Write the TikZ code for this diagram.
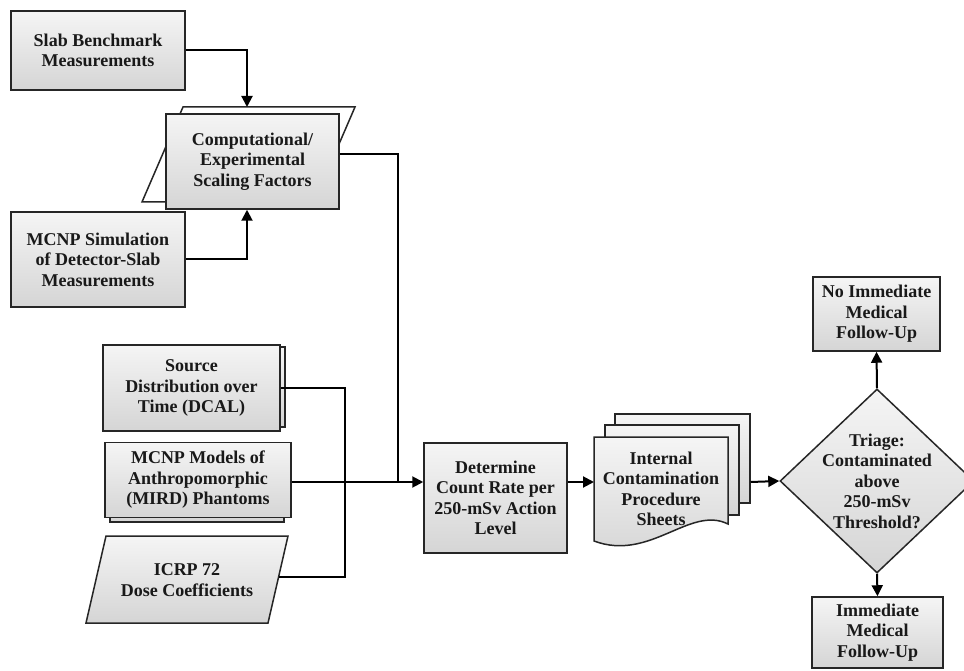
\documentclass[tikz,border=0pt]{standalone}
\usepackage{fontspec}
\setmainfont{Liberation Serif}
\usetikzlibrary{arrows.meta,shapes.geometric,calc}
\begin{document}
\begin{tikzpicture}[x=1pt,y=-1pt,
  lbl/.style={align=center, inner sep=0pt, text=black!90, font=\fontsize{18}{20.5}\selectfont\bfseries},
  edge/.style={draw=black!85, line width=1.5pt},
  shade/.style={top color=gray!8, bottom color=gray!33},
  box/.style={edge, shade, lbl},
  conn/.style={line width=2pt, draw=black},
  arr/.style={conn, -{Triangle[length=11pt,width=11pt]}}]
\useasboundingbox (0,0) rectangle (964,671);
\fill[white] (0,0) rectangle (964,671);

% top-left group
\node[box, minimum width=174pt, minimum height=79pt] (slab) at (98,50.5) {Slab Benchmark\\Measurements};
\filldraw[edge, fill=white] (183,107) -- (355,107) -- (314,202) -- (142,202) -- cycle;
\coordinate (csftop) at (247,107);
\node[box, minimum width=173pt, minimum height=95pt] (csf) at (252.5,161.5) {Computational/\\Experimental\\Scaling Factors};
\node[box, minimum width=174pt, minimum height=95pt] (mcnpsim) at (98,259.5) {MCNP Simulation\\of Detector-Slab\\Measurements};

% left inputs
\node[box, minimum width=178pt, minimum height=80pt] (srcback) at (196,387) {};
\node[box, minimum width=177pt, minimum height=86pt] (source) at (191.5,388) {Source\\Distribution over\\Time (DCAL)};
\node[box, minimum width=174pt, minimum height=75pt] (mirdback) at (197,484.5) {};
\node[box, minimum width=186pt, minimum height=75pt] (mird) at (198,480) {MCNP Models of\\Anthropomorphic\\(MIRD) Phantoms};
\filldraw[edge, shade] (106,536) -- (288,536) -- (268,623) -- (86,623) -- cycle;
\node[lbl] (icrp) at (187,580) {ICRP 72\\Dose Coefficients};
\coordinate (icrpR) at (279,577);

% middle
\node[box, minimum width=143pt, minimum height=110pt] (determine) at (495.5,498) {Determine\\Count Rate per\\250-mSv Action\\Level};
\node[box, minimum width=135pt, minimum height=89pt] (docb) at (682.5,458.5) {};
\node[box, minimum width=134pt, minimum height=90pt] (docm) at (672,470) {};
\filldraw[edge, shade] (594,437) -- (728,437) -- (728,524) .. controls (690,505) and (650,562) .. (594,541) -- cycle;
\node[lbl] (doc) at (661,489) {Internal\\Contamination\\Procedure\\Sheets};
\coordinate (docL) at (594,482);

% right
\node[diamond, edge, shade, minimum width=194pt, minimum height=184pt, inner sep=0pt] (tri) at (877,481) {};
\node[lbl] (tritext) at (877,481) {Triage:\\Contaminated\\above\\250-mSv\\Threshold?};
\node[box, minimum width=127pt, minimum height=74pt] (noimm) at (876.5,314) {No Immediate\\Medical\\Follow-Up};
\node[box, minimum width=131pt, minimum height=71pt] (imm) at (877.5,632.5) {Immediate\\Medical\\Follow-Up};

% connectors
\coordinate (j) at (398,482);
\coordinate (bus) at (345,482);
\draw[arr] (slab.east) -| (csftop);
\draw[arr] (mcnpsim.east) -| ([xshift=-5.5pt]csf.south);
\draw[conn] ([yshift=7.5pt]csf.east) -| (j);
\draw[arr] (mird.east |- j) -- (determine.west |- j);
\draw[conn] (source.east) -| (bus) |- (icrpR);
\draw[arr] (determine.east |- j) -- (docL);
\draw[arr] (docb.east |- j) -- (tri.west);
\draw[arr] (tri.north) -- (noimm.south);
\draw[arr] (tri.south) -- (imm.north);
\end{tikzpicture}
\end{document}
